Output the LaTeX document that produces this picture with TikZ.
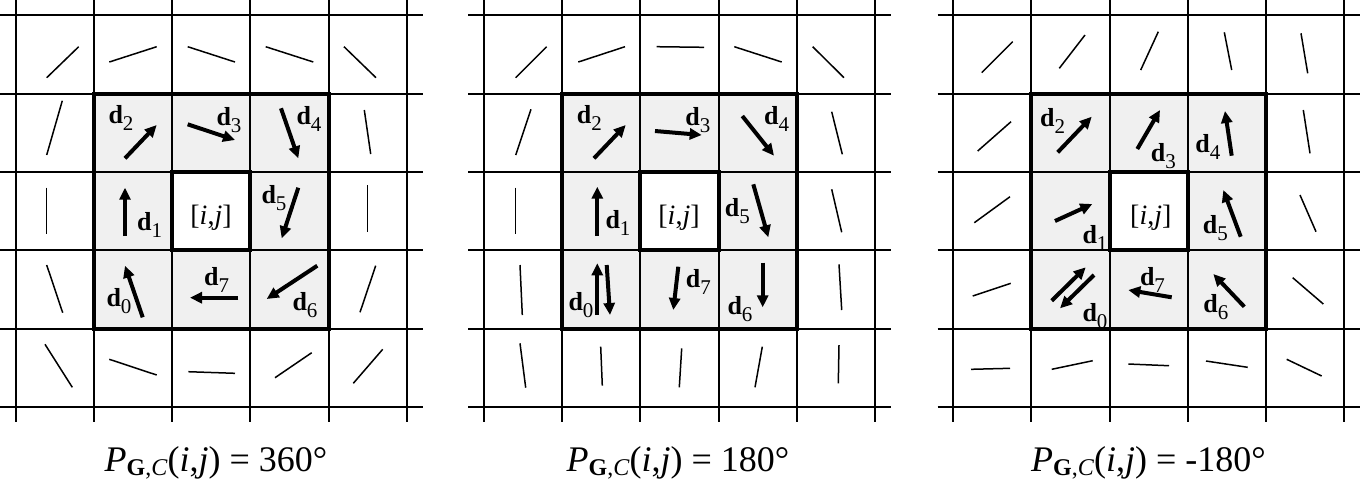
\documentclass[tikz,border=0pt]{standalone}
\usepackage{fontspec}
\setmainfont{Liberation Serif}
\usetikzlibrary{arrows.meta}
\newcommand\dl[1]{\textbf{d}\raisebox{-0.28em}{\fontsize{10.5}{11}\selectfont #1}}
\newcommand\ptitle[1]{\textit{P}\raisebox{-0.12em}{\fontsize{12}{13}\selectfont\textbf{G},\textit{C}}(\textit{i},\textit{j}) = #1}
\tikzset{
  gridl/.style={line width=1pt},
  thickb/.style={line width=2pt},
  seg/.style={line width=0.75pt},
  arr/.style={line width=2pt,-{Triangle[length=6pt,width=5.5pt]}},
  dlab/.style={inner sep=0pt,font=\fontsize{13}{15}\selectfont},
  ijlab/.style={inner sep=0pt,font=\fontsize{14}{16}\selectfont},
  ttl/.style={inner sep=0pt,anchor=base,font=\fontsize{18}{20}\selectfont}
}
\begin{document}
\begin{tikzpicture}[x=0.5pt,y=-0.5pt]
\useasboundingbox (0,0) rectangle (1360,479);
\foreach \o in {0,468.3,937.5}{
  \fill[black!6] (\o+93.9,93.6) rectangle (\o+328.5,328.5);
  \fill[white] (\o+172.1,171.9) rectangle (\o+250.3,250.2);
  \foreach \k in {0,...,5}{
    \draw[gridl] (\o,15.3+78.3*\k) -- (\o+422.5,15.3+78.3*\k);
    \draw[gridl] (\o+15.7+78.2*\k,0) -- (\o+15.7+78.2*\k,422);
  }
  \draw[thickb] (\o+93.9,93.6) rectangle (\o+328.5,328.5);
  \draw[thickb] (\o+172.1,171.9) rectangle (\o+250.3,250.2);
}
% ---------- panel 1 ----------
\draw[seg] (46.7,77.7)--(78.7,46.7);
\draw[seg] (109.3,62)--(156.7,46.7);
\draw[seg] (187.7,46.7)--(235,62);
\draw[seg] (265.7,46.7)--(313.3,62);
\draw[seg] (344,46.7)--(376,77.7);
\draw[seg] (46.7,155)--(62.3,100.7);
\draw[seg] (364.3,110)--(370.7,154);
\draw[seg] (46.7,187.7)--(46.7,234.3);
\draw[seg] (367.7,185)--(367.7,231.7);
\draw[seg] (46.7,265)--(62.7,312.7);
\draw[seg] (375.7,265.7)--(360,312.3);
\draw[seg] (45,344.3)--(72.3,387.3);
\draw[seg] (109.3,359.3)--(156.7,375);
\draw[seg] (188.3,371.7)--(235,373.3);
\draw[seg] (275,377.7)--(311.7,352.7);
\draw[seg] (353.3,383.3)--(382.7,349.3);
\draw[arr] (125,158.3)--(156.7,125);
\draw[arr] (187.7,124.3)--(235,140);
\draw[arr] (281,108.3)--(298.3,158.3);
\draw[arr] (125,236)--(125,187.7);
\draw[arr] (298.3,187.7)--(281.7,238.3);
\draw[arr] (142.7,317.3)--(125,265.7);
\draw[arr] (238.3,297.7)--(190,297.7);
\draw[arr] (317.3,265.7)--(266.7,299);
\node[dlab] (a2) at (121,118) {\dl{2}};
\node[dlab] (a3) at (229,120) {\dl{3}};
\node[dlab] (a4) at (309,119) {\dl{4}};
\node[dlab] (a1) at (149.7,225) {\dl{1}};
\node[dlab] (a5) at (274,198) {\dl{5}};
\node[dlab] (a0) at (119,301) {\dl{0}};
\node[dlab] (a7) at (216.7,280) {\dl{7}};
\node[dlab] (a6) at (305,305) {\dl{6}};
\node[ijlab] (aij) at (211,218) {[\textit{i},\textit{j}]};
\node[ttl] (at) at (216,471) {\ptitle{360°}};
% ---------- panel 2 ----------
\draw[seg] (515.7,77.7)--(546.7,46.7);
\draw[seg] (578.3,62)--(625,46.7);
\draw[seg] (656.7,46.7)--(704,47.3);
\draw[seg] (734.3,46.7)--(781.7,62);
\draw[seg] (812.7,46.7)--(844,77.7);
\draw[seg] (515.7,155)--(531,109.3);
\draw[seg] (831.7,111.7)--(842.3,154.3);
\draw[seg] (515.7,187.7)--(515.7,234.3);
\draw[seg] (831.7,189.3)--(841.7,232.3);
\draw[seg] (520,265)--(522.3,315);
\draw[seg] (839,264.3)--(841.7,310);
\draw[seg] (520,343.3)--(525.7,387.7);
\draw[seg] (600.7,346.7)--(602.3,385.7);
\draw[seg] (681.7,348.3)--(679.3,387.3);
\draw[seg] (762.3,346.7)--(755,387.3);
\draw[seg] (839,345)--(838.3,383.3);
\draw[arr] (594,158.3)--(625.7,125);
\draw[arr] (655,131)--(701.7,135);
\draw[arr] (742.3,116)--(774,155.7);
\draw[arr] (597.3,236)--(597.3,186.7);
\draw[arr] (753.3,184.3)--(768.3,237.3);
\draw[arr] (597.3,315)--(597.3,263.3);
\draw[arr] (606.7,265)--(610,315);
\draw[arr] (678.3,266.7)--(673.3,310);
\draw[arr] (762.7,262.7)--(762.7,307.3);
\node[dlab] (b2) at (589.3,118) {\dl{2}};
\node[dlab] (b3) at (697.8,120) {\dl{3}};
\node[dlab] (b4) at (776.7,119) {\dl{4}};
\node[dlab] (b1) at (618,223) {\dl{1}};
\node[dlab] (b5) at (737.3,211) {\dl{5}};
\node[dlab] (b0) at (581,305) {\dl{0}};
\node[dlab] (b7) at (698.3,282) {\dl{7}};
\node[dlab] (b6) at (740,309) {\dl{6}};
\node[ijlab] (bij) at (679,218) {[\textit{i},\textit{j}]};
\node[ttl] (bt) at (678,471) {\ptitle{180°}};
% ---------- panel 3 ----------
\draw[seg] (981.7,72.7)--(1012.7,41.7);
\draw[seg] (1059.3,68.3)--(1085,35);
\draw[seg] (1140.7,70)--(1158.3,31.7);
\draw[seg] (1224.3,32.3)--(1231.7,70);
\draw[seg] (1301,33.3)--(1307.7,73.3);
\draw[seg] (977.7,151)--(1011,121.7);
\draw[seg] (1303.3,110)--(1310,153.3);
\draw[seg] (974.3,222.7)--(1010,196.7);
\draw[seg] (1300,195)--(1316,231.7);
\draw[seg] (972.7,296)--(1010.7,283.3);
\draw[seg] (1292.7,277.7)--(1323.3,304);
\draw[seg] (971,369.3)--(1010,368.3);
\draw[seg] (1051.7,369.3)--(1092.7,360.7);
\draw[seg] (1128.3,364)--(1169,365.7);
\draw[seg] (1206,361)--(1247.7,367.3);
\draw[seg] (1286.7,359.3)--(1321.7,376);
\draw[arr] (1057.7,152.3)--(1091.7,116.7);
\draw[arr] (1137.3,149)--(1160,110);
\draw[arr] (1231.7,155.7)--(1225,111);
\draw[arr] (1055,221)--(1092.3,204);
\draw[arr] (1240.7,236.7)--(1223.3,190);
\draw[arr] (1051.7,300.7)--(1085.7,267.3);
\draw[arr] (1094,275)--(1060,308.3);
\draw[arr] (1171.7,297.3)--(1128.3,290);
\draw[arr] (1244.3,306.7)--(1213.3,274);
\node[dlab] (c2) at (1052.7,121) {\dl{2}};
\node[dlab] (c3) at (1163.3,156) {\dl{3}};
\node[dlab] (c4) at (1207.8,147) {\dl{4}};
\node[dlab] (c1) at (1095,238) {\dl{1}};
\node[dlab] (c5) at (1215.3,228) {\dl{5}};
\node[dlab] (c0) at (1095,316) {\dl{0}};
\node[dlab] (c7) at (1152.5,280) {\dl{7}};
\node[dlab] (c6) at (1215.8,307) {\dl{6}};
\node[ijlab] (cij) at (1150.8,218) {[\textit{i},\textit{j}]};
\node[ttl] (ct) at (1148.5,471) {\ptitle{-180°}};
\end{tikzpicture}
\end{document}
